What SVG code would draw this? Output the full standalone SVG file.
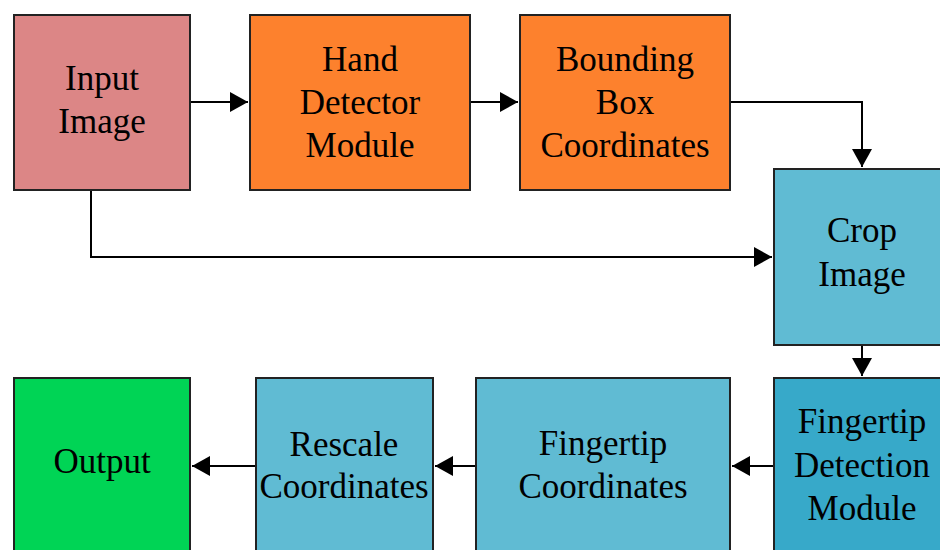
<svg xmlns="http://www.w3.org/2000/svg" width="940" height="550" viewBox="0 0 940 550">
<style>
.box{stroke:#222;stroke-width:2}
.t{font-family:'Liberation Serif',serif;font-size:35px;fill:#000;text-anchor:middle}
.c{fill:none;stroke:#000;stroke-width:2}
</style>
<defs>
<marker id="ah" markerUnits="userSpaceOnUse" markerWidth="20" markerHeight="22" refX="18" refY="10" orient="auto">
<path d="M0,0 L18,10 L0,20 z" fill="#000"/>
</marker>
</defs>
<rect width="940" height="550" fill="#fff"/>
<g id="connectors">
<path class="c" d="M190,102 H248" marker-end="url(#ah)"/>
<path class="c" d="M470,102 H518" marker-end="url(#ah)"/>
<path class="c" d="M730,102 H862 V167" marker-end="url(#ah)"/>
<path class="c" d="M91,190 V257 H772" marker-end="url(#ah)"/>
<path class="c" d="M862,345 V376" marker-end="url(#ah)"/>
<path class="c" d="M774,466 H732" marker-end="url(#ah)"/>
<path class="c" d="M476,466 H435" marker-end="url(#ah)"/>
<path class="c" d="M256,466 H192" marker-end="url(#ah)"/>
</g>
<g id="input-image">
<rect class="box" x="14" y="15" width="176" height="175" fill="#dc8686"/>
<text class="t" x="102" y="90">Input</text>
<text class="t" x="102" y="133">Image</text>
</g>
<g id="hand-detector">
<rect class="box" x="250" y="15" width="220" height="175" fill="#fd812d"/>
<text class="t" x="360" y="71">Hand</text>
<text class="t" x="360" y="114">Detector</text>
<text class="t" x="360" y="157">Module</text>
</g>
<g id="bounding-box">
<rect class="box" x="520" y="15" width="210" height="175" fill="#fd812d"/>
<text class="t" x="625" y="71">Bounding</text>
<text class="t" x="625" y="114">Box</text>
<text class="t" x="625" y="157">Coordinates</text>
</g>
<g id="crop-image">
<rect class="box" x="774" y="169" width="180" height="176" fill="#60bbd3"/>
<text class="t" x="862" y="242">Crop</text>
<text class="t" x="862" y="286">Image</text>
</g>
<g id="fingertip-detection">
<rect class="box" x="774" y="378" width="180" height="190" fill="#37a9c9"/>
<text class="t" x="862" y="433">Fingertip</text>
<text class="t" x="862" y="477">Detection</text>
<text class="t" x="862" y="520">Module</text>
</g>
<g id="fingertip-coordinates">
<rect class="box" x="476" y="378" width="254" height="190" fill="#60bbd3"/>
<text class="t" x="603" y="455">Fingertip</text>
<text class="t" x="603" y="498">Coordinates</text>
</g>
<g id="rescale">
<rect class="box" x="256" y="378" width="177" height="190" fill="#60bbd3"/>
<text class="t" x="344" y="456">Rescale</text>
<text class="t" x="344" y="498">Coordinates</text>
</g>
<g id="output">
<rect class="box" x="14" y="378" width="176" height="190" fill="#00d455"/>
<text class="t" x="102" y="473">Output</text>
</g>
</svg>
